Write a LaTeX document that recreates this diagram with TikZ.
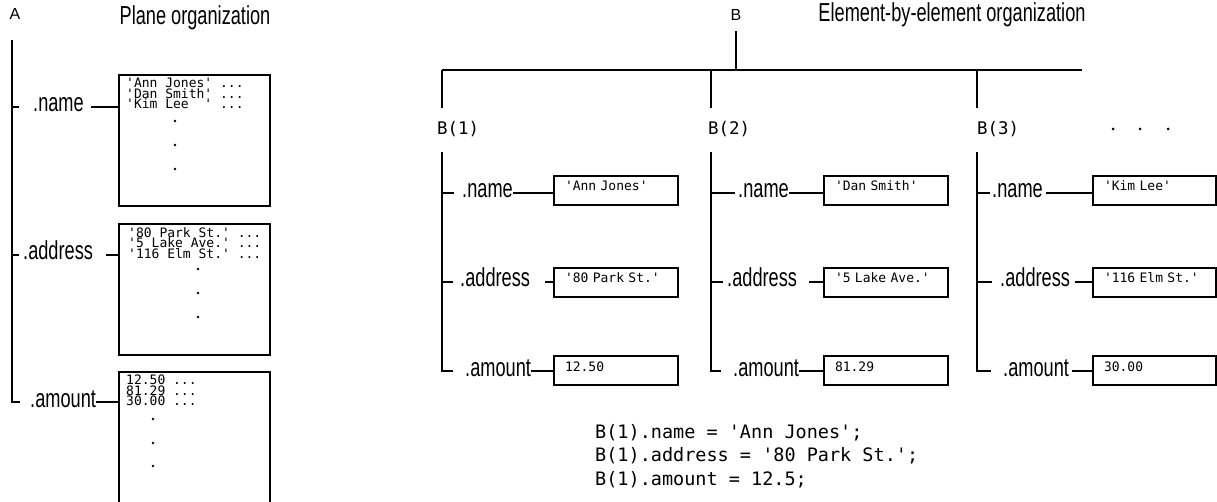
\documentclass[tikz,border=0pt]{standalone}
\usepackage{fontspec}
\setmainfont{Liberation Sans}
\newfontfamily\labelfont[FakeStretch=0.7]{Liberation Sans}
\newfontfamily\codefont[Ligatures=TeXOff]{DejaVu Sans Mono}
\usetikzlibrary{positioning}

\tikzset{
  line/.style={line width=2pt},
  title/.style={font=\labelfont\fontsize{26}{30}\selectfont, inner sep=0pt, anchor=base},
  field/.style={font=\labelfont\fontsize{26}{30}\selectfont, inner sep=0pt, anchor=west, text height=10pt, text depth=0pt},
  root/.style={font=\fontsize{16}{18}\selectfont, inner sep=0pt, anchor=base},
  idx/.style={font=\codefont\fontsize{17.4}{20}\selectfont, inner sep=0pt, anchor=base west, text height=27pt, text depth=17pt},
  valbox/.style={draw, line width=2pt, anchor=west, font=\codefont\fontsize{13}{14}\selectfont, text width=102pt, align=left, inner xsep=11pt, inner ysep=0pt, text height=15pt, text depth=14pt},
  listbox/.style={draw, line width=2pt, anchor=north west, minimum width=151pt},
  listtext/.style={font={\codefont\fontsize{13}{10.5}\selectfont\lineskiplimit=-20pt}, align=left, inner sep=0pt},
  code/.style={font=\codefont\fontsize{18.5}{23.5}\selectfont, align=left, inner sep=0pt, anchor=north west}
}

\begin{document}
\begin{tikzpicture}[x=1pt, y=-1pt]
\useasboundingbox (0,0) rectangle (1217,502);
\clip (0,0) rectangle (1217,502);
% plane organization
\node[root] (A) at (15,20) {A};
\node[title] (planetitle) at (195,25) {Plane organization};
\coordinate (aroot) at (12,40);
\node[field] (aname) at (33,107) {.name};
\node[field] (aaddress) at (23,255) {.address};
\node[field] (aamount) at (30,402) {.amount};
\node[listbox, minimum height=131pt] (namelist) at (118,74) {};
\node[listbox, minimum height=131pt] (addresslist) at (118,223) {};
\node[listbox, minimum height=160pt] (amountlist) at (118,371) {};
\node[listtext, below right=4pt and 8pt of namelist.north west] (names) {'Ann~Jones'~...\\'Dan~Smith'~...\\'Kim~Lee~~'~...};
\node[listtext, below right=4pt and 10pt of addresslist.north west] (addresses) {'80~Park~St.'~...\\'5~Lake~Ave.'~...\\'116~Elm~St.'~...};
\node[listtext, below right=4pt and 8pt of amountlist.north west] (amounts) {12.50~...\\81.29~...\\30.00~...};
\fill (175,121) circle (1.4pt) (175,145) circle (1.4pt) (175,169) circle (1.4pt);
\fill (198,269) circle (1.4pt) (198,293) circle (1.4pt) (198,317) circle (1.4pt);
\fill (153,419) circle (1.4pt) (153,443) circle (1.4pt) (153,466) circle (1.4pt);
% tree of A
\draw[line, shorten >=10pt] (aroot) |- (aamount.west);
\draw[line, shorten >=14pt] (aroot |- aname) -- (aname.west);
\draw[line, shorten >=4pt] (aroot |- aaddress) -- (aaddress.west);
\draw[line, shorten <=7pt] (aname.east) -- (aname.east -| namelist.west);
\draw[line, shorten <=13pt] (aaddress.east) -- (aaddress.east -| addresslist.west);
\draw[line] (aamount.east) -- (aamount.east -| amountlist.west);

% element-by-element organization
\node[root] (B) at (736,21) {B};
\node[title] (elemtitle) at (952,22) {Element-by-element organization};
\coordinate (bjoin) at (736,70);
\coordinate (c1) at (442,70);
\coordinate (c2) at (711,70);
\coordinate (c3) at (977,70);
\coordinate (barend) at (1082,70);
\draw[line, shorten <=10pt] (B.south) -- (bjoin);
\draw[line] (c1) -- (barend);

% B(1)
\node[idx] (b1) at (437,135) {B(1)};
\node[field] (n1) at (462,193) {.name};
\node[field] (d1) at (460,282) {.address};
\node[field] (m1) at (465,371) {.amount};
\node[valbox] (v1n) at (553,190.5) {'Ann~Jones'};
\node[valbox] (v1d) at (553,282.5) {'80~Park~St.'};
\node[valbox] (v1m) at (553,370.5) {12.50};
\draw[line] (c1) -- (b1.north -| c1);
\draw[line, shorten >=12pt] (b1.south -| c1) |- (m1.west);
\draw[line, shorten >=8pt] (c1 |- n1) -- (n1.west);
\draw[line, shorten >=7pt] (c1 |- d1) -- (d1.west);
\draw[line] (n1.east) -- (n1.east -| v1n.west);
\draw[line, shorten <=15pt] (d1.east) -- (d1.east -| v1d.west);
\draw[line] (m1.east) -- (m1.east -| v1m.west);

% B(2)
\node[idx] (b2) at (708,135) {B(2)};
\node[field] (n2) at (738,193) {.name};
\node[field] (d2) at (727,282) {.address};
\node[field] (m2) at (733,371) {.amount};
\node[valbox] (v2n) at (823,190.5) {'Dan~Smith'};
\node[valbox] (v2d) at (823,282.5) {'5~Lake~Ave.'};
\node[valbox] (v2m) at (823,370.5) {81.29};
\draw[line] (c2) -- (b2.north -| c2);
\draw[line, shorten >=12pt] (b2.south -| c2) |- (m2.west);
\draw[line, shorten >=3pt] (c2 |- n2) -- (n2.west);
\draw[line, shorten >=4pt] (c2 |- d2) -- (d2.west);
\draw[line] (n2.east) -- (n2.east -| v2n.west);
\draw[line, shorten <=12pt] (d2.east) -- (d2.east -| v2d.west);
\draw[line] (m2.east) -- (m2.east -| v2m.west);

% B(3)
\node[idx] (b3) at (977,135) {B(3)};
\node[field] (n3) at (992,193) {.name};
\node[field] (d3) at (1000,282) {.address};
\node[field] (m3) at (1003,371) {.amount};
\node[valbox, text width=101pt] (v3n) at (1092,190.5) {'Kim~Lee'};
\node[valbox, text width=101pt] (v3d) at (1092,282.5) {'116~Elm~St.'};
\node[valbox, text width=101pt] (v3m) at (1092,370.5) {30.00};
\draw[line] (c3) -- (b3.north -| c3);
\draw[line, shorten >=12pt] (b3.south -| c3) |- (m3.west);
\draw[line, shorten >=2pt] (c3 |- n3) -- (n3.west);
\draw[line, shorten >=8pt] (c3 |- d3) -- (d3.west);
\draw[line, shorten <=3pt] (n3.east) -- (n3.east -| v3n.west);
\draw[line, shorten <=5pt] (d3.east) -- (d3.east -| v3d.west);
\draw[line, shorten <=3pt] (m3.east) -- (m3.east -| v3m.west);
\fill (1113,129) circle (1.5pt) (1140,129) circle (1.5pt) (1168,129) circle (1.5pt);

% assignment
\node[code] (assign) at (595,424) {B(1).name = 'Ann Jones';\\B(1).address = '80 Park St.';\\B(1).amount = 12.5;};
\end{tikzpicture}
\end{document}
